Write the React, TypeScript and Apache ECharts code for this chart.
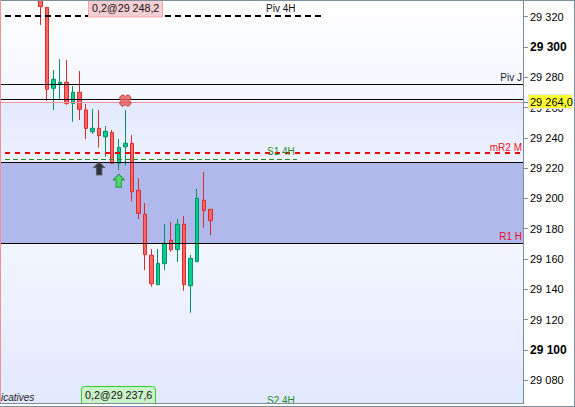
import React, { useEffect, useRef } from "react";
import * as echarts from "echarts";

const opens = [29334.3, 29326.2, 29272.7, 29275.5, 29276.7, 29262.8, 29270.1, 29258.4, 29244.0, 29246.3, 29240.7, 29243.6, 29223.2, 29234.1, 29236.4, 29205.3, 29189.5, 29162.4, 29143.0, 29156.9, 29172.3, 29166.1, 29182.9, 29142.3, 29158.2, 29198.7, 29192.8];
const closes = [29326.6, 29272.0, 29278.7, 29276.7, 29262.8, 29270.1, 29258.8, 29246.2, 29246.3, 29241.4, 29244.3, 29223.2, 29233.7, 29236.4, 29204.4, 29190.1, 29162.8, 29143.6, 29157.1, 29170.3, 29166.1, 29182.9, 29143.0, 29160.4, 29200.1, 29191.9, 29185.3];
const lows = [29314.5, 29264.5, 29258.4, 29265.4, 29261.7, 29250.6, 29251.8, 29239.2, 29242.5, 29233.5, 29227.5, 29222.9, 29218.7, 29221.6, 29197.8, 29186.4, 29152.7, 29141.7, 29142.8, 29152.7, 29164.8, 29158.0, 29139.0, 29124.5, 29158.2, 29180.6, 29175.8];
const highs = [29337.6, 29326.2, 29284.8, 29291.9, 29291.4, 29274.2, 29284.1, 29262.3, 29259.0, 29258.4, 29247.8, 29245.2, 29239.2, 29258.4, 29241.9, 29213.3, 29197.0, 29166.6, 29166.6, 29183.1, 29184.4, 29186.4, 29188.4, 29162.6, 29206.2, 29217.4, 29192.8];

const tickValues = [29320, 29300, 29280, 29260, 29240, 29220, 29200, 29180, 29160, 29140, 29120, 29100, 29080];
const boldTicks = [29300, 29100];

const Y_MIN = 29064.85;
const Y_MAX = 29330.37;
const X_MIN = -6.16;
const X_MAX = 73.81;

// price levels
const pivot4H = 29320.7;
const pivotJ = 29275.1;
const levelB = 29265.4;
const lastPrice = 29263.6;
const mR2 = 29230.2;
const s14H = 29225.8;
const levelC = 29223.8;
const r1H = 29170.3;

const arrowPath = "path://M5 0 L10 5 L7.5 5 L7.5 12 L2.5 12 L2.5 5 L0 5 Z";
const crossPath =
  "path://M2 0 L4 0 L5.5 1.5 L7 0 L9 0 L11 2 L11 4 L9.5 5.5 L11 7 L11 9 L9 11 L7 11 L5.5 9.5 L4 11 L2 11 L0 9 L0 7 L1.5 5.5 L0 4 L0 2 Z";

function fmt(v: number) {
  const s = String(v);
  return s.slice(0, 2) + " " + s.slice(2);
}

function hLine(value: number, x0: number | null, x1: number | null, color: string, width: number, type: any) {
  return [
    { xAxis: x0 === null ? X_MIN : x0, yAxis: value, lineStyle: { color, width, type } },
    { xAxis: x1 === null ? X_MAX : x1, yAxis: value },
  ];
}

export default function App() {
  const ref = useRef<HTMLDivElement>(null);
  useEffect(() => {
    document.body.style.margin = "0";
    const chart = echarts.init(ref.current!, null, { renderer: "svg" });
    const font = "11px 'Liberation Sans'";
    const small = "10px 'Liberation Sans'";
    const grad = (a: string, b: string) =>
      new echarts.graphic.LinearGradient(0, 0, 0, 1, [
        { offset: 0, color: a },
        { offset: 1, color: b },
      ]);
    const label = (text: string, x: number, y: number, fill: string, align = "left", f = small) => ({
      type: "text",
      z: 100,
      style: { text, x, y, fill, font: f, textAlign: align, textVerticalAlign: "middle" },
    });
    chart.setOption({
      animation: false,
      backgroundColor: "#ffffff",
      grid: { left: 0, width: 523, top: 1, height: 402, containLabel: false, show: false },
      xAxis: { type: "value", min: X_MIN, max: X_MAX, show: false, splitLine: { show: false } },
      yAxis: {
        type: "value",
        position: "right",
        min: Y_MIN,
        max: Y_MAX,
        splitLine: { show: false },
        axisLine: { show: true, onZero: false, lineStyle: { color: "#7a8f9a", width: 1 } },
        axisTick: { show: true, length: 5, customValues: tickValues, lineStyle: { color: "#7a8f9a" } },
        axisLabel: {
          customValues: tickValues,
          margin: 7,
          formatter: (v: number) => (boldTicks.includes(v) ? `{b|${fmt(v)}}` : `{n|${fmt(v)}}`),
          rich: {
            n: { fontFamily: "Liberation Sans", fontSize: 11, color: "#000" },
            b: { fontFamily: "Liberation Sans", fontSize: 12, fontWeight: "bold", color: "#000" },
          },
        },
      },
      series: [
        {
          type: "candlestick",
          barWidth: 4,
          data: opens.map((o, i) => [i, o, closes[i], lows[i], highs[i]]),
          itemStyle: {
            color: "#00d090",
            color0: "#ff6666",
            borderColor: "#008f60",
            borderColor0: "#d62c2c",
            borderWidth: 1,
          },
          markArea: {
            silent: true,
            z: 0,
            data: [
              [
                { yAxis: Y_MAX, itemStyle: { color: grad("#ffffff", "#f4f6ff") } },
                { yAxis: lastPrice },
              ],
              [
                { yAxis: lastPrice, itemStyle: { color: grad("#e3eafd", "#eef2ff") } },
                { yAxis: levelC },
              ],
              [{ yAxis: levelC, itemStyle: { color: "#b0b8ec" } }, { yAxis: r1H }],
              [
                { yAxis: r1H, itemStyle: { color: grad("#f3f6ff", "#e2e9fd") } },
                { yAxis: Y_MIN },
              ],
            ],
          },
          markLine: {
            silent: true,
            symbol: "none",
            label: { show: false },
            data: [
              hLine(pivot4H, -5.4, 43.2, "#000000", 2, [6, 4]),
              hLine(pivotJ, null, null, "#000000", 1, "solid"),
              hLine(levelB, null, null, "#000000", 1, "solid"),
              hLine(lastPrice, null, null, "#f09098", 1, "solid"),
              hLine(mR2, -5.4, 73.4, "#ee0000", 2, [5, 5]),
              hLine(s14H, -5.4, 39.25, "#2a8a2a", 1, [5, 3]),
              hLine(levelC, null, null, "#000000", 1, "solid"),
              hLine(r1H, null, null, "#000000", 1, "solid"),
            ],
          },
        },
        {
          type: "scatter",
          z: 6,
          symbol: arrowPath,
          symbolSize: [11, 13],
          data: [{ value: [9, 29219.7], itemStyle: { color: "#111111", borderColor: "#555555", borderWidth: 1 } }],
        },
        {
          type: "scatter",
          z: 6,
          symbol: arrowPath,
          symbolSize: [11, 13],
          data: [{ value: [12, 29211.7], itemStyle: { color: "#33e04a", borderColor: "#128a28", borderWidth: 1 } }],
        },
        {
          type: "scatter",
          z: 6,
          symbol: crossPath,
          symbolSize: [11, 11],
          data: [{ value: [13, 29264.6], itemStyle: { color: "#e85858", borderColor: "#b83030", borderWidth: 1 } }],
        },
      ],
      graphic: [
        label("Piv 4H", 266, 8, "#111111"),
        label("Piv J", 522, 77, "#1a1a3a", "right"),
        label("mR2 M", 522, 147, "#ee1122", "right"),
        label("S1 4H", 267, 151, "#2a8a2a"),
        label("R1 H", 522, 236, "#ee1122", "right"),
        label("S2 4H", 267, 400, "#2a8a2a"),
        label("icatives", 1, 397, "#222222", "left", "italic 10px 'Liberation Sans'"),
        {
          type: "rect",
          z: 99,
          shape: { x: 88.5, y: -2, width: 74, height: 19 },
          style: { fill: "#f6cdd1", stroke: "#f2a7ae", lineWidth: 1 },
        },
        label("0,2@29 248,2", 92, 8, "#111111", "left", "10.7px 'Liberation Sans'"),
        {
          type: "rect",
          z: 99,
          shape: { x: 81.5, y: 386.5, width: 74, height: 22, r: 3 },
          style: { fill: "#c9f2c9", stroke: "#33cc33", lineWidth: 1 },
        },
        label("0,2@29 237,6", 85, 395, "#111111", "left", "10.7px 'Liberation Sans'"),
        {
          type: "rect",
          z: 101,
          shape: { x: 0, y: 403, width: 523, height: 4 },
          style: { fill: "#ffffff" },
        },
        {
          type: "line",
          z: 102,
          shape: { x1: 0, y1: 403.5, x2: 524, y2: 403.5 },
          style: { stroke: "#7a8f9a", lineWidth: 1 },
        },
        {
          type: "line",
          z: 102,
          shape: { x1: 0, y1: 406.5, x2: 575, y2: 406.5 },
          style: { stroke: "#7a8f9a", lineWidth: 1 },
        },
        {
          type: "line",
          z: 102,
          shape: { x1: 0, y1: 0.5, x2: 575, y2: 0.5 },
          style: { stroke: "#7a8f9a", lineWidth: 1 },
        },
        {
          type: "line",
          z: 102,
          shape: { x1: 574.5, y1: 0, x2: 574.5, y2: 407 },
          style: { stroke: "#7a8f9a", lineWidth: 1 },
        },
        {
          type: "line",
          z: 102,
          shape: { x1: 0.5, y1: 0, x2: 0.5, y2: 403 },
          style: { stroke: "#f09098", lineWidth: 1 },
        },
        {
          type: "line",
          z: 102,
          shape: { x1: 523, y1: 102.5, x2: 529, y2: 102.5 },
          style: { stroke: "#7a8f9a", lineWidth: 1 },
        },
        {
          type: "rect",
          z: 102,
          shape: { x: 528.5, y: 94.5, width: 44, height: 14 },
          style: { fill: "#ffff33", stroke: "#e6e6e6", lineWidth: 1 },
        },
        { ...label("29 264,0", 530, 102, "#000000", "left", font), z: 103 },
      ],
    });
    return () => chart.dispose();
  }, []);
  return <div ref={ref} style={{ width: 575, height: 407 }} />;
}
